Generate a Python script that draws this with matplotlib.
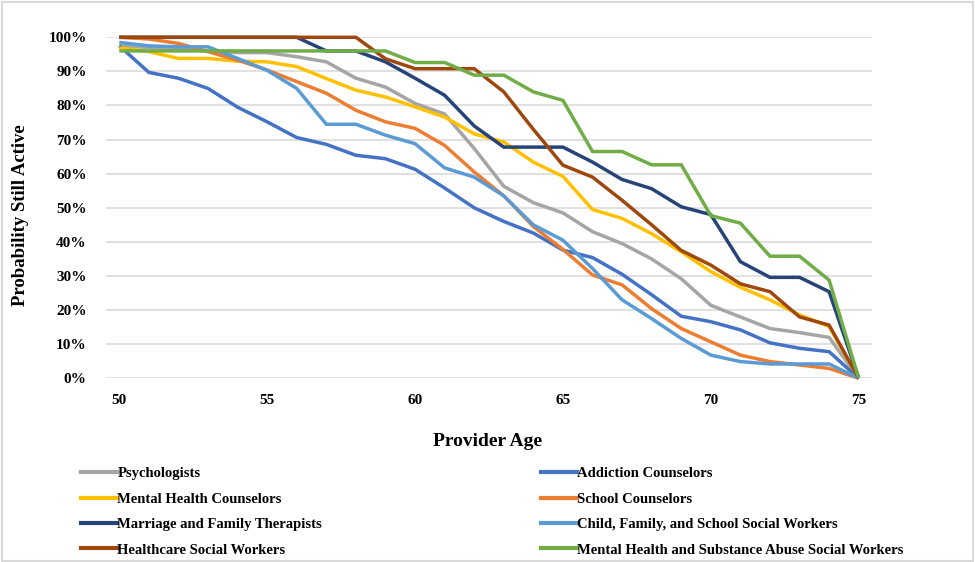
import matplotlib
matplotlib.use("Agg")
import matplotlib.pyplot as plt
from matplotlib.ticker import PercentFormatter
from matplotlib.lines import Line2D
from matplotlib.patches import Rectangle

ages = [50, 51, 52, 53, 54, 55, 56, 57, 58, 59, 60, 61, 62, 63, 64, 65, 66, 67, 68, 69, 70, 71, 72, 73, 74, 75]

psychologists = [97.5, 97, 96.5, 96, 95.5, 95.5, 94.3, 92.8, 88, 85.4, 80.6, 77.5, 67.4, 56.3, 51.5, 48.5, 43, 39.5, 35, 29.2, 21.4, 18, 14.6, 13.4, 12, 0]
addiction = [97.5, 89.7, 88, 85, 79.5, 75.2, 70.6, 68.6, 65.4, 64.4, 61.3, 55.8, 50, 46, 42.6, 37.6, 35.4, 30.5, 24.5, 18.2, 16.6, 14.2, 10.4, 8.8, 7.8, 0]
mental_health = [96.9, 95.8, 93.8, 93.8, 93, 92.8, 91.4, 87.9, 84.5, 82.5, 79.6, 76.6, 71.7, 69.3, 63.4, 59.2, 49.5, 46.9, 42.4, 37.1, 31.3, 26.7, 23, 18.6, 15.2, 0]
school = [100, 99.5, 98.2, 95.8, 93.3, 90.4, 87, 83.6, 78.6, 75.2, 73.3, 68.3, 60.5, 53.5, 44.5, 37.8, 30.3, 27.4, 20.4, 14.6, 10.7, 6.8, 4.9, 3.9, 2.9, 0]
marriage = [100, 100, 100, 100, 100, 100, 100, 96, 96, 92.8, 88, 83, 74, 67.8, 67.8, 67.8, 63.4, 58.3, 55.6, 50.3, 48, 34.2, 29.6, 29.6, 25.4, 0]
child_family = [98.5, 97.5, 97.2, 97.2, 93.8, 90.3, 85, 74.5, 74.5, 71.3, 68.8, 61.7, 59, 53.5, 45, 40.5, 32.2, 23, 17.5, 11.7, 6.8, 4.9, 4.2, 4.2, 4.2, 0]
healthcare = [100, 100, 100, 100, 100, 100, 100, 100, 100, 93.7, 90.8, 90.8, 90.8, 84, 73, 62.5, 59, 52.2, 45, 37.5, 33.2, 27.7, 25.4, 18, 15.6, 0]
mhsa = [96, 96, 96, 96, 96, 96, 96, 96, 96, 96, 92.6, 92.6, 88.9, 88.9, 84, 81.5, 66.5, 66.5, 62.6, 62.6, 47.7, 45.5, 35.8, 35.8, 28.8, 0]

labels = ["Psychologists", "Addiction Counselors", "Mental Health Counselors",
          "School Counselors", "Marriage and Family Therapists",
          "Child, Family, and School Social Workers", "Healthcare Social Workers",
          "Mental Health and Substance Abuse Social Workers"]
series = [psychologists, addiction, mental_health, school, marriage, child_family, healthcare, mhsa]
colors = ["#A5A5A5", "#4472C4", "#FFC000", "#ED7D31", "#264478", "#5B9BD5", "#9E480E", "#70AD47"]

plt.rcParams['font.family'] = ['Liberation Serif', 'DejaVu Serif']
plt.rcParams['font.weight'] = 'bold'

fig = plt.figure(figsize=(9.75, 5.62), dpi=100)
ax = fig.add_axes([106/975, 1-378.3/562, (872-106)/975, (378.3-37.3)/562])

for vals, lab, col in zip(series, labels, colors):
    ax.plot(ages, [v/100 for v in vals], color=col, lw=2.5, label=lab,
            clip_on=False, solid_joinstyle='miter', solid_capstyle='butt')

ax.set_xlim(49.55, 75.45)
ax.set_ylim(0, 1)
ax.set_yticks([i/10 for i in range(11)])
ax.yaxis.set_major_formatter(PercentFormatter(1.0, decimals=0))
ax.set_xticks([50, 55, 60, 65, 70, 75])
ax.tick_params(axis='both', length=0, labelsize=11)
ax.tick_params(axis='y', pad=14)
ax.tick_params(axis='x', pad=11)
for lab in ax.get_xticklabels() + ax.get_yticklabels():
    lab.set_fontweight('bold')
ax.grid(axis='y', color='#D9D9D9', lw=1.1)
ax.set_axisbelow(True)
for s in ax.spines.values():
    s.set_visible(False)

fig.text(488/975, 1-442/562, "Provider Age", ha='center', va='center',
         fontsize=14, fontweight='bold')
fig.text(21/975, 1-215/562, "Probability Still Active", ha='center', va='center',
         rotation=90, fontsize=13.5, fontweight='bold')

col1 = [0, 2, 4, 6]
col2 = [1, 3, 5, 7]
for idx, x0 in ((col1, 81/975), (col2, 541/975)):
    hs = [Line2D([0], [0], color=colors[i], lw=3) for i in idx]
    fig.legend(hs, [labels[i] for i in idx], loc='upper left',
               bbox_to_anchor=(x0, 1-467/562), frameon=False,
               prop={'family': 'Liberation Serif', 'weight': 'bold', 'size': 10.5},
               handlelength=2.5, handletextpad=0.0, labelspacing=0.84,
               borderaxespad=0, borderpad=0)

fig.patches.append(Rectangle((0.002, 0.002), 0.996, 0.995, transform=fig.transFigure,
                             fill=False, edgecolor='#D9D9D9', lw=1.5))

fig.savefig("out.png", dpi=100)
